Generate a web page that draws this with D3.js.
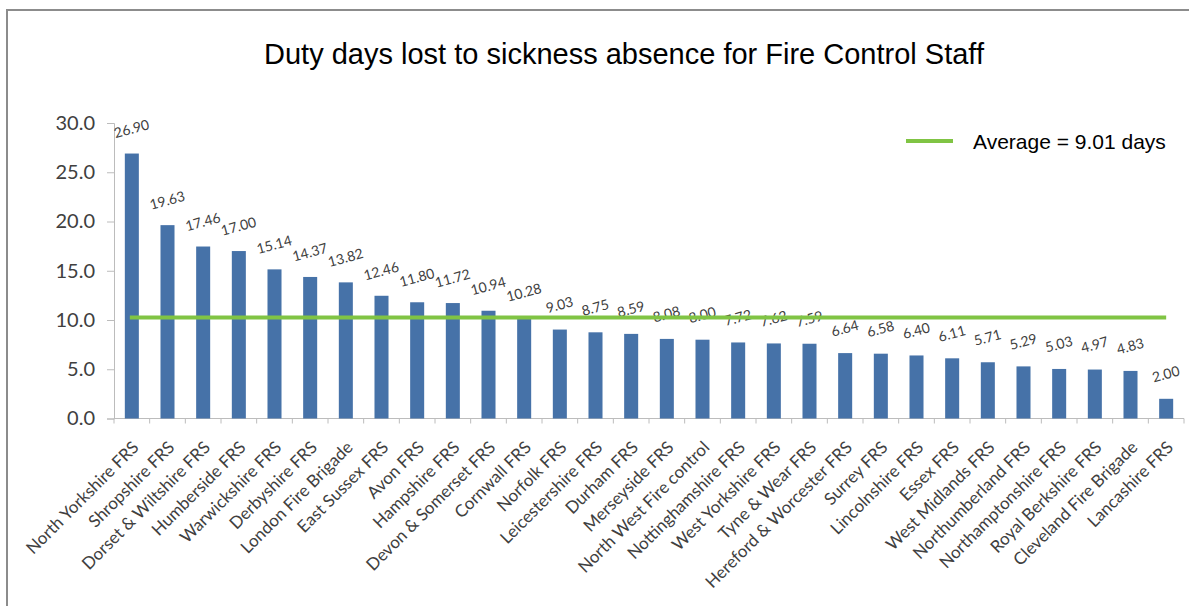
<!DOCTYPE html>
<html>
<head>
<meta charset="utf-8">
<script src="https://cdn.jsdelivr.net/npm/d3@7"></script>
<style>
  body { margin: 0; background: #fff; }
  svg { display: block; }
</style>
</head>
<body>
<svg id="chart" width="1189" height="606"></svg>
<script>
// services, in the order shown
var services = [
  "North Yorkshire FRS", "Shropshire FRS", "Dorset & Wiltshire FRS", "Humberside FRS",
  "Warwickshire FRS", "Derbyshire FRS", "London Fire Brigade", "East Sussex FRS",
  "Avon FRS", "Hampshire FRS", "Devon & Somerset FRS", "Cornwall FRS", "Norfolk FRS",
  "Leicestershire FRS", "Durham FRS", "Merseyside FRS", "North West Fire control",
  "Nottinghamshire FRS", "West Yorkshire FRS", "Tyne & Wear FRS", "Hereford & Worcester FRS",
  "Surrey FRS", "Lincolnshire FRS", "Essex FRS", "West Midlands FRS", "Northumberland FRS",
  "Northamptonshire FRS", "Royal Berkshire FRS", "Cleveland Fire Brigade", "Lancashire FRS"
];
var daysLost = [
  26.90, 19.63, 17.46, 17.00, 15.14, 14.37, 13.82, 12.46, 11.80, 11.72, 10.94, 10.28, 9.03,
  8.75, 8.59, 8.08, 8.00, 7.72, 7.62, 7.59, 6.64, 6.58, 6.40, 6.11, 5.71, 5.29, 5.03,
  4.97, 4.83, 2.00
];
var yTicks = [0, 5, 10, 15, 20, 25, 30];
// the green line sits a bit above the stated average in the original
var averageLine = 10.25;
var legendLabel = "Average = 9.01 days";
var title = "Duty days lost to sickness absence for Fire Control Staff";

var svg = d3.select("#chart");

// outer frame
svg.append("rect")
  .attr("x", 7).attr("y", 10)
  .attr("width", 1200).attr("height", 620)
  .attr("fill", "none")
  .attr("stroke", "#8c8c8c")
  .attr("stroke-width", 2);

var plotLeft = 114, plotRight = 1184, plotTop = 123, plotBottom = 418.5;

var x = d3.scaleBand()
  .domain(services)
  .range([plotLeft, plotRight])
  .paddingInner(0.607)
  .paddingOuter(0.3035);

var y = d3.scaleLinear()
  .domain([0, 30])
  .range([plotBottom, plotTop]);

svg.append("text")
  .attr("x", 624).attr("y", 64)
  .attr("text-anchor", "middle")
  .attr("font-family", "Liberation Sans, Arial, sans-serif")
  .attr("font-size", 29)
  .attr("fill", "#000")
  .text(title);

// y axis
var yAxis = svg.append("g")
  .attr("transform", "translate(" + plotLeft + ",0)")
  .call(d3.axisLeft(y).tickValues(yTicks).tickFormat(d3.format(".1f")).tickSize(7).tickPadding(12));
yAxis.select(".domain").attr("stroke", "#bcbcbc");
yAxis.selectAll(".tick line").attr("stroke", "#bcbcbc");
yAxis.selectAll(".tick text")
  .attr("font-family", "Lato, sans-serif")
  .attr("font-size", 20)
  .attr("fill", "#404040");

// x axis line
svg.append("line")
  .attr("x1", plotLeft).attr("x2", plotRight)
  .attr("y1", plotBottom).attr("y2", plotBottom)
  .attr("stroke", "#bcbcbc");

// category separators
svg.append("g").selectAll("line")
  .data(d3.range(services.length + 1))
  .join("line")
  .attr("x1", function(i) { return plotLeft + i * x.step(); })
  .attr("x2", function(i) { return plotLeft + i * x.step(); })
  .attr("y1", plotBottom).attr("y2", plotBottom + 5)
  .attr("stroke", "#bcbcbc");

// bars
svg.append("g").selectAll("rect")
  .data(daysLost)
  .join("rect")
  .attr("x", function(d, i) { return x(services[i]); })
  .attr("y", function(d) { return y(d); })
  .attr("width", x.bandwidth())
  .attr("height", function(d) { return plotBottom - y(d); })
  .attr("fill", "#4672a8");

// value labels
svg.append("g").selectAll("text")
  .data(daysLost)
  .join("text")
  .attr("transform", function(d, i) {
    return "translate(" + (x(services[i]) + x.bandwidth() / 2 + 1) + "," + (y(d) - 20) + ") rotate(-15)";
  })
  .attr("text-anchor", "middle")
  .attr("font-family", "Lato, sans-serif")
  .attr("font-size", 14)
  .attr("fill", "#404040")
  .text(function(d) { return d.toFixed(2); });

// category labels
svg.append("g").selectAll("text")
  .data(services)
  .join("text")
  .attr("transform", function(d) {
    return "translate(" + (x(d) + x.bandwidth() / 2 + 8) + "," + (plotBottom + 30) + ") rotate(-45)";
  })
  .attr("text-anchor", "end")
  .attr("font-family", "Lato, sans-serif")
  .attr("font-size", 17)
  .attr("fill", "#404040")
  .text(function(d) { return d; });

// average line
svg.append("line")
  .attr("x1", x(services[0]) + x.bandwidth() / 2 - 2)
  .attr("x2", x(services[services.length - 1]) + x.bandwidth() / 2)
  .attr("y1", y(averageLine)).attr("y2", y(averageLine))
  .attr("stroke", "#80c444")
  .attr("stroke-width", 4);

// legend
var legend = svg.append("g").attr("transform", "translate(906,141)");
legend.append("line")
  .attr("x1", 0).attr("x2", 47)
  .attr("stroke", "#80c444").attr("stroke-width", 4);
legend.append("text")
  .attr("x", 67).attr("y", 7.5)
  .attr("font-family", "Liberation Sans, Arial, sans-serif")
  .attr("font-size", 21)
  .attr("fill", "#000")
  .text(legendLabel);
</script>
</body>
</html>
